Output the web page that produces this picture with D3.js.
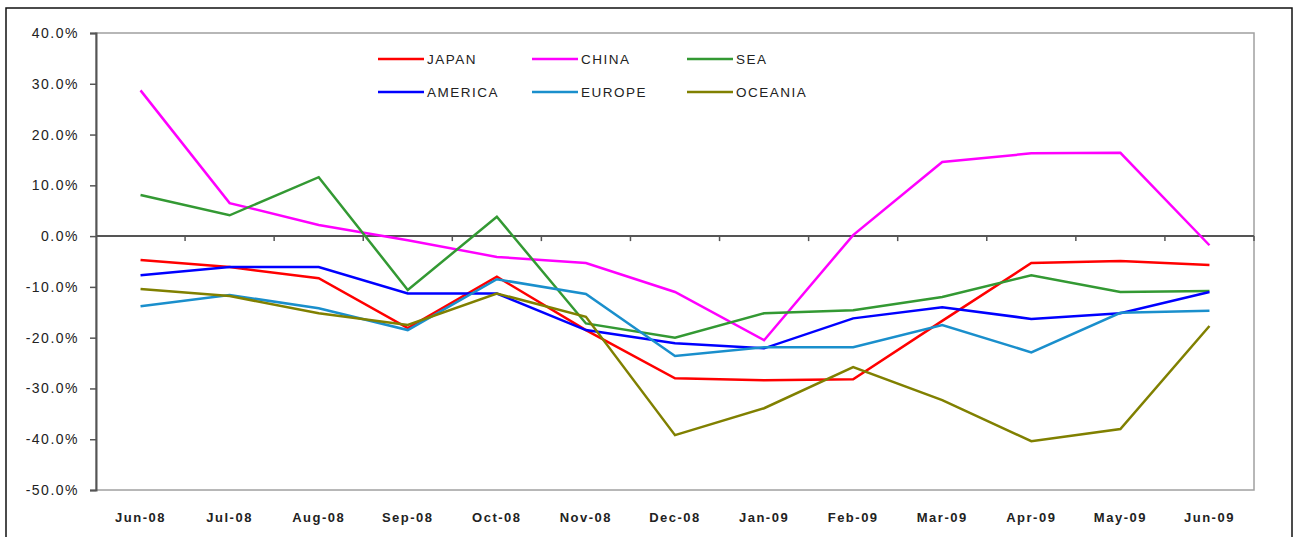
<!DOCTYPE html>
<html>
<head>
<meta charset="utf-8">
<script src="https://cdn.jsdelivr.net/npm/d3@7"></script>
<style>
  body { margin: 0; background: #fff; }
  svg text { font-family: "Liberation Sans", Arial, sans-serif; fill: #222; }
</style>
</head>
<body>
<div id="chart"></div>
<script>

var months = ["Jun-08", "Jul-08", "Aug-08", "Sep-08", "Oct-08", "Nov-08", "Dec-08",
              "Jan-09", "Feb-09", "Mar-09", "Apr-09", "May-09", "Jun-09"];

var japan   = [-4.7, -6.1, -8.3, -18.1, -8.0, -18.5, -28.0, -28.4, -28.2, -16.7, -5.3, -4.9, -5.7];
var china   = [28.7, 6.5, 2.2, -0.8, -4.1, -5.3, -11.0, -20.5, 0.2, 14.6, 16.3, 16.4, -1.8];
var sea     = [8.1, 4.1, 11.6, -10.6, 3.8, -17.2, -20.0, -15.2, -14.6, -12.0, -7.7, -11.0, -10.8];
var america = [-7.7, -6.1, -6.1, -11.3, -11.3, -18.5, -21.1, -22.1, -16.2, -14.0, -16.3, -15.2, -11.0];
var europe  = [-13.8, -11.6, -14.2, -18.5, -8.5, -11.4, -23.6, -21.9, -21.9, -17.5, -22.9, -15.1, -14.7];
var oceania = [-10.4, -11.8, -15.2, -17.5, -11.3, -15.9, -39.2, -33.9, -25.8, -32.3, -40.4, -38.0, -17.7];

var seriesNames = ["JAPAN", "CHINA", "SEA", "AMERICA", "EUROPE", "OCEANIA"];
var seriesColors = ["#ff0000", "#ff00ff", "#339933", "#0000ff", "#1a8fcc", "#808000"];
var yTicks = [40, 30, 20, 10, 0, -10, -20, -30, -40, -50];

var series = [japan, china, sea, america, europe, oceania];

var width = 1295;
var height = 537;
var margin = {left: 96, right: 1254, top: 33, bottom: 490};

var svg = d3.select('#chart')
    .append('svg')
    .attr('width', width)
    .attr('height', height);

// outer chart border
svg.append('rect')
    .attr('x', 6).attr('y', 8)
    .attr('width', 1286).attr('height', 545)
    .attr('fill', 'none')
    .attr('stroke', '#111')
    .attr('stroke-width', 1.5);

var x = d3.scaleBand()
    .domain(months)
    .range([margin.left, margin.right]);

var y = d3.scaleLinear()
    .domain([-50, 40])
    .range([margin.bottom, margin.top]);

// plot area frame
svg.append('rect')
    .attr('x', margin.left).attr('y', margin.top)
    .attr('width', margin.right - margin.left)
    .attr('height', margin.bottom - margin.top)
    .attr('fill', 'none')
    .attr('stroke', '#a0a0a0')
    .attr('stroke-width', 1.5);

// y axis
var yAxis = svg.append('g')
    .attr('transform', 'translate(' + margin.left + ',0)')
    .call(d3.axisLeft(y)
        .tickValues(yTicks)
        .tickSize(6)
        .tickPadding(11)
        .tickFormat(function(d) { return d.toFixed(1) + '%'; }));
yAxis.select('.domain').attr('stroke', '#555').attr('stroke-width', 2);
yAxis.selectAll('.tick line').attr('stroke', '#555').attr('stroke-width', 1.5);
yAxis.selectAll('.tick text')
    .attr('font-size', 14)
    .attr('letter-spacing', '1.5px')
    .attr('fill', '#222');

// zero line with category ticks
svg.append('line')
    .attr('x1', margin.left).attr('x2', margin.right)
    .attr('y1', y(0)).attr('y2', y(0))
    .attr('stroke', '#555')
    .attr('stroke-width', 2);

var boundaries = months.map(function(m) { return x(m); }).concat([margin.right]);
svg.selectAll('.cat-tick')
    .data(boundaries.slice(1))
    .enter()
    .append('line')
    .attr('x1', function(d) { return d; })
    .attr('x2', function(d) { return d; })
    .attr('y1', y(0))
    .attr('y2', y(0) + 5)
    .attr('stroke', '#555')
    .attr('stroke-width', 1.5);

// x labels
svg.selectAll('.xlabel')
    .data(months)
    .enter()
    .append('text')
    .attr('x', function(d) { return x(d) + x.bandwidth() / 2; })
    .attr('y', 522)
    .attr('text-anchor', 'middle')
    .attr('font-size', 13)
    .attr('font-weight', 'bold')
    .attr('letter-spacing', '1.5px')
    .attr('fill', '#333')
    .text(function(d) { return d; });

var line = d3.line()
    .x(function(d, i) { return x(months[i]) + x.bandwidth() / 2; })
    .y(function(d) { return y(d); });

svg.selectAll('.series')
    .data(series)
    .enter()
    .append('path')
    .attr('d', line)
    .attr('fill', 'none')
    .attr('stroke', function(d, i) { return seriesColors[i]; })
    .attr('stroke-width', 2.5);

// legend
var legendX = [378, 532, 687];
var legendY = [59, 92];
var legend = svg.selectAll('.legend')
    .data(seriesNames)
    .enter()
    .append('g')
    .attr('transform', function(d, i) {
        return 'translate(' + legendX[i % 3] + ',' + legendY[Math.floor(i / 3)] + ')';
    });

legend.append('line')
    .attr('x1', 0).attr('x2', 46)
    .attr('y1', 0).attr('y2', 0)
    .attr('stroke', function(d, i) { return seriesColors[i]; })
    .attr('stroke-width', 2.5);

legend.append('text')
    .attr('x', 49)
    .attr('y', 5)
    .attr('font-size', 13.5)
    .attr('letter-spacing', '1.5px')
    .attr('fill', '#222')
    .text(function(d) { return d; });

</script>
</body>
</html>
